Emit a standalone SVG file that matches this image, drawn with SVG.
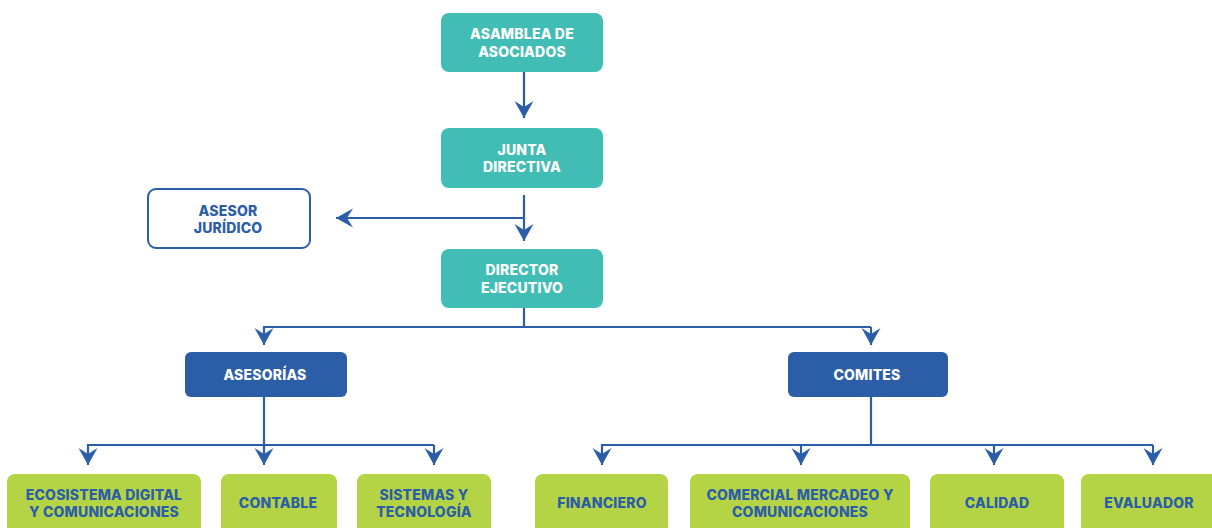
<svg xmlns="http://www.w3.org/2000/svg" width="1212" height="528" viewBox="0 0 1212 528">
<style>
.teal{fill:#41BDB5}
.blue{fill:#2B5EA7}
.green{fill:#B5D445}
.outline{fill:#fff;stroke:#2B5EA7;stroke-width:2}
text{font-family:Inter,"Open Sans","Liberation Sans",sans-serif;font-weight:800;font-size:14px;letter-spacing:0.2px;text-anchor:middle}
.w{fill:#fff}
.b{fill:#2B5EA7}
.conn{fill:none;stroke:#2B5EA7;stroke-width:2.2}
</style>
<defs>
<marker id="ah" viewBox="-18 -10 19 20" markerWidth="19" markerHeight="20" refX="0" refY="0" orient="auto" markerUnits="userSpaceOnUse">
<path d="M0,0 L-17,-9.5 L-11,0 L-17,9.5 Z" fill="#2B5EA7"/>
</marker>
</defs>
<rect width="1212" height="528" fill="#fff"/>
<g id="connectors">
<path class="conn" d="M524,72 V118" marker-end="url(#ah)"/>
<path class="conn" d="M524,195 V241" marker-end="url(#ah)"/>
<path class="conn" d="M524,218 H336" marker-end="url(#ah)"/>
<path class="conn" d="M524,308 V327"/>
<path class="conn" d="M871,327 H264 V345" marker-end="url(#ah)"/>
<path class="conn" d="M871,327 V345" marker-end="url(#ah)"/>
<path class="conn" d="M264,397 V445"/>
<path class="conn" d="M434,445 H88 V465" marker-end="url(#ah)"/>
<path class="conn" d="M264,445 V465" marker-end="url(#ah)"/>
<path class="conn" d="M434,445 V465" marker-end="url(#ah)"/>
<path class="conn" d="M871,397 V445"/>
<path class="conn" d="M1153,445 H602 V465" marker-end="url(#ah)"/>
<path class="conn" d="M801,445 V465" marker-end="url(#ah)"/>
<path class="conn" d="M994,445 V465" marker-end="url(#ah)"/>
<path class="conn" d="M1153,445 V465" marker-end="url(#ah)"/>
</g>
<g id="asamblea">
<rect class="teal" x="441" y="13" width="162" height="59" rx="8"/>
<text class="w" x="522" y="39">ASAMBLEA DE</text>
<text class="w" x="522" y="57">ASOCIADOS</text>
</g>
<g id="junta">
<rect class="teal" x="441" y="128" width="162" height="60" rx="8"/>
<text class="w" x="522" y="155">JUNTA</text>
<text class="w" x="522" y="172">DIRECTIVA</text>
</g>
<g id="asesor-juridico">
<rect class="outline" x="148" y="189" width="162" height="59" rx="8"/>
<text class="b" x="228" y="216">ASESOR</text>
<text class="b" x="228" y="233">JURÍDICO</text>
</g>
<g id="director">
<rect class="teal" x="441" y="249" width="162" height="59" rx="8"/>
<text class="w" x="522" y="275">DIRECTOR</text>
<text class="w" x="522" y="293">EJECUTIVO</text>
</g>
<g id="asesorias">
<rect class="blue" x="185" y="352" width="162" height="45" rx="6"/>
<text class="w" x="265" y="380">ASESORÍAS</text>
</g>
<g id="comites">
<rect class="blue" x="788" y="352" width="160" height="45" rx="6"/>
<text class="w" x="867" y="380">COMITES</text>
</g>
<g id="ecosistema">
<rect class="green" x="7" y="474" width="194" height="70" rx="8"/>
<text class="b" x="104" y="500">ECOSISTEMA DIGITAL</text>
<text class="b" x="104" y="517">Y COMUNICACIONES</text>
</g>
<g id="contable">
<rect class="green" x="221" y="474" width="116" height="70" rx="8"/>
<text class="b" x="278" y="508">CONTABLE</text>
</g>
<g id="sistemas">
<rect class="green" x="357" y="474" width="134" height="70" rx="8"/>
<text class="b" x="424" y="500">SISTEMAS Y</text>
<text class="b" x="424" y="517">TECNOLOGÍA</text>
</g>
<g id="financiero">
<rect class="green" x="535" y="474" width="133" height="70" rx="8"/>
<text class="b" x="602" y="508">FINANCIERO</text>
</g>
<g id="comercial">
<rect class="green" x="690" y="474" width="220" height="70" rx="8"/>
<text class="b" x="800" y="500">COMERCIAL MERCADEO Y</text>
<text class="b" x="800" y="517">COMUNICACIONES</text>
</g>
<g id="calidad">
<rect class="green" x="930" y="474" width="134" height="70" rx="8"/>
<text class="b" x="997" y="508">CALIDAD</text>
</g>
<g id="evaluador">
<rect class="green" x="1081" y="474" width="150" height="70" rx="8"/>
<text class="b" x="1149" y="508">EVALUADOR</text>
</g>
</svg>
